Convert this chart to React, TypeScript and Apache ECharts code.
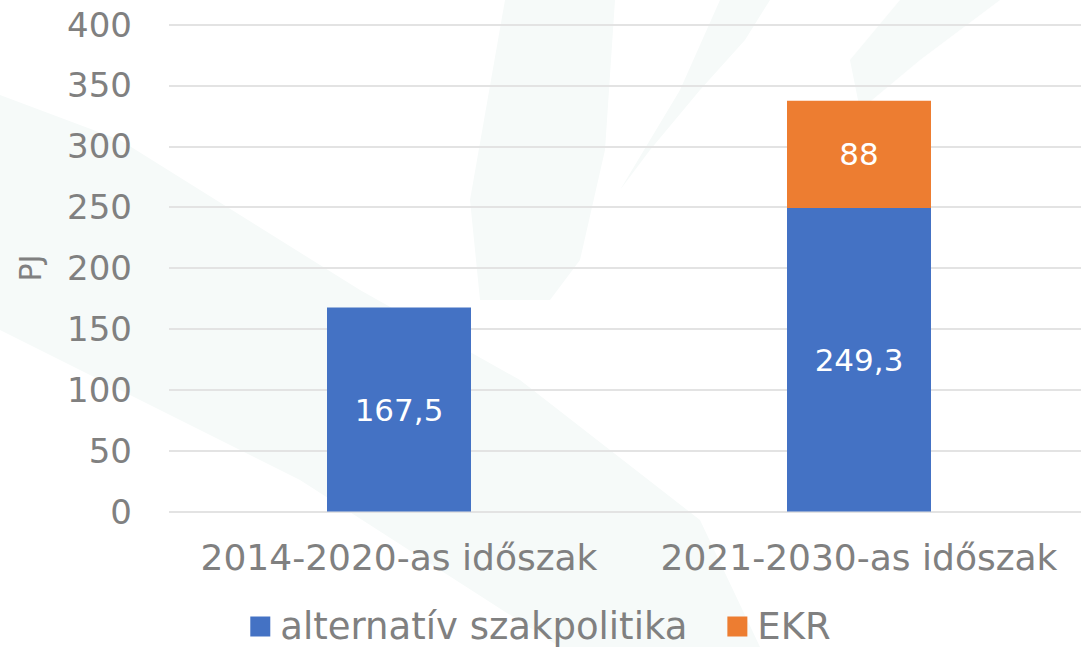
import React, { useEffect, useRef } from "react";
import * as echarts from "echarts";

const categories = ["2014-2020-as időszak", "2021-2030-as időszak"];
const altValues = [167.5, 249.3];
const ekrValues = [null, 88];
const seriesNames = ["alternatív szakpolitika", "EKR"];
const yTicks = { min: 0, max: 400, interval: 50 };

const FONT = "'DejaVu Sans', sans-serif";
const GREY = "#808080";
const fmt = (v: number) => String(v).replace(".", ",");

export default function App() {
  const ref = useRef<HTMLDivElement>(null);
  useEffect(() => {
    const chart = echarts.init(ref.current!, null, { renderer: "svg" });
    const wm = "#f6faf9";
    chart.setOption({
      animation: false,
      backgroundColor: "#ffffff",
      textStyle: { fontFamily: FONT },
      graphic: [
        { type: "polygon", z: -10, silent: true, shape: { points: [[0, 95], [120, 140], [360, 290], [520, 380], [700, 520], [760, 647], [560, 647], [300, 480], [0, 330]] }, style: { fill: wm } },
        { type: "polygon", z: -10, silent: true, shape: { points: [[505, 0], [615, 0], [605, 150], [580, 260], [550, 300], [480, 300], [470, 200]] }, style: { fill: wm } },
        { type: "polygon", z: -10, silent: true, shape: { points: [[720, 0], [770, 0], [745, 40], [700, 90], [650, 150], [620, 190], [680, 90]] }, style: { fill: wm } },
        { type: "polygon", z: -10, silent: true, shape: { points: [[900, 0], [1000, 0], [920, 60], [860, 110], [850, 60]] }, style: { fill: wm } },
      ],
      grid: { left: 169, right: -8, top: 24.5, bottom: 135.5, containLabel: false, outerBoundsMode: "none" },
      legend: {
        bottom: -3,
        left: "center",
        itemWidth: 20,
        itemHeight: 20,
        itemGap: 40,
        icon: "rect",
        textStyle: { color: GREY, fontSize: 37, fontFamily: FONT, padding: [0, 0, 0, 5] },
        data: seriesNames,
      },
      xAxis: {
        type: "category",
        data: categories,
        axisLine: { show: false },
        axisTick: { show: false },
        axisLabel: { color: GREY, fontSize: 36, margin: 28, fontFamily: FONT, interval: 0 },
      },
      yAxis: {
        type: "value",
        min: yTicks.min,
        max: yTicks.max,
        interval: yTicks.interval,
        name: "PJ",
        nameLocation: "middle",
        nameGap: 124,
        nameRotate: 90,
        nameTextStyle: { color: GREY, fontSize: 30, fontFamily: FONT },
        axisLine: { show: false },
        axisTick: { show: false },
        axisLabel: { color: GREY, fontSize: 34, margin: 37, fontFamily: FONT },
        splitLine: { lineStyle: { color: "#e3e3e3", width: 2 } },
      },
      series: [
        {
          name: seriesNames[0],
          type: "bar",
          stack: "s",
          barWidth: 144,
          data: altValues,
          itemStyle: { color: "#4472c4" },
          label: { show: true, position: "inside", color: "#ffffff", fontSize: 31, fontFamily: FONT, formatter: (p: any) => fmt(p.value) },
        },
        {
          name: seriesNames[1],
          type: "bar",
          stack: "s",
          barWidth: 144,
          data: ekrValues,
          itemStyle: { color: "#ed7d31" },
          label: { show: true, position: "inside", color: "#ffffff", fontSize: 31, fontFamily: FONT, formatter: (p: any) => fmt(p.value) },
        },
      ],
    });
    return () => chart.dispose();
  }, []);
  return <div ref={ref} style={{ position: "fixed", left: 0, top: 0, width: 1081, height: 647 }} />;
}
